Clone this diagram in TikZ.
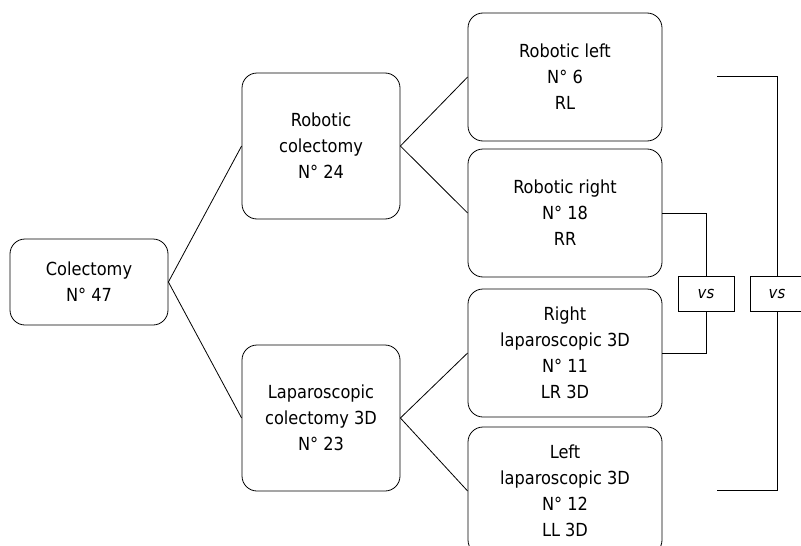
\documentclass[tikz,border=0pt]{standalone}
\usepackage{fontspec}
\setmainfont{DejaVu Sans Condensed}
\begin{document}
\begin{tikzpicture}[x=1pt,y=-1pt,
  box/.style={draw, line width=0.8pt, rounded corners=15pt, align=center, inner sep=0pt,
    font=\fontsize{18}{26}\selectfont},
  vsbox/.style={draw, line width=0.7pt, inner sep=0pt, minimum height=35pt,
    font=\fontsize{16.5}{18}\selectfont\itshape},
  conn/.style={line width=0.8pt}]
\useasboundingbox (0,0) rectangle (801,546);
\node[box, minimum width=158pt, minimum height=86pt] (col) at (89,282) {Colectomy\\N° 47};
\node[box, minimum width=158pt, minimum height=146pt] (rc) at (321,146) {Robotic\\colectomy\\N° 24};
\node[box, minimum width=158pt, minimum height=146pt] (lc) at (321,418) {Laparoscopic\\colectomy 3D\\N° 23};
\node[box, minimum width=194pt, minimum height=128pt] (rl) at (565,77) {Robotic left\\N° 6\\RL};
\node[box, minimum width=194pt, minimum height=128pt] (rr) at (565,213) {Robotic right\\N° 18\\RR};
\node[box, minimum width=194pt, minimum height=128pt] (lr) at (565,353) {Right\\laparoscopic 3D\\N° 11\\LR 3D};
\node[box, minimum width=194pt, minimum height=128pt] (ll) at (565,491) {Left\\laparoscopic 3D\\N° 12\\LL 3D};
\node[vsbox, minimum width=56pt] (vs1) at (706,293.5) {vs};
\node[vsbox, minimum width=54pt] (vs2) at (777,293.5) {vs};
\coordinate (bt) at (717,76);
\coordinate (bb) at (717,490);
\draw[conn] (col.east) -- (rc.west);
\draw[conn] (col.east) -- (lc.west);
\draw[conn] (rc.east) -- (rl.west);
\draw[conn] (rc.east) -- (rr.west);
\draw[conn] (lc.east) -- (lr.west);
\draw[conn] (lc.east) -- (ll.west);
\draw[conn] (rr.east) -| (vs1.north);
\draw[conn] (vs1.south) |- (lr.east);
\draw[conn] (bt) -| (vs2.north);
\draw[conn] (vs2.south) |- (bb);
\end{tikzpicture}
\end{document}
